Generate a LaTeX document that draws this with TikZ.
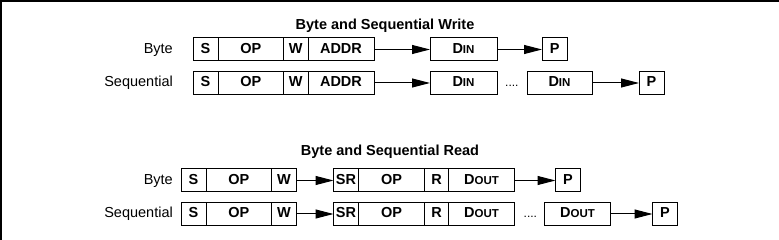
\documentclass[tikz,border=0pt]{standalone}
\usepackage{fontspec}
\setmainfont{Liberation Sans}
\usepackage{tikz}
\usetikzlibrary{arrows.meta,positioning}
\tikzset{
  cell/.style={draw=black,line width=1pt,minimum height=23pt,inner sep=0pt,outer sep=0pt,text height=10.5pt,text depth=3pt,font=\fontsize{14.5}{17}\selectfont\bfseries},
  sbox/.style={cell,minimum width=25pt},
  opbox/.style={cell,minimum width=65.5pt},
  wbox/.style={cell,minimum width=24.5pt},
  databox/.style={cell,minimum width=66pt},
  pbox/.style={cell,minimum width=25.5pt},
  dots/.style={inner sep=0pt,text height=10.5pt,text depth=3pt,font=\fontsize{12}{14}\selectfont},
  lbl/.style={inner sep=0pt,text height=10.5pt,text depth=3pt,font=\fontsize{14.5}{17}\selectfont},
  ttl/.style={inner sep=0pt,font=\fontsize{14.5}{17}\selectfont\bfseries},
  arrow/.style={-{Triangle[length=18pt,width=9pt]},line width=1pt,draw=black}
}
\newcommand{\Din}{D{\fontsize{11.5}{14}\selectfont IN}}
\newcommand{\Dout}{D{\fontsize{11.5}{14}\selectfont OUT}}
\begin{document}
\begin{tikzpicture}[x=1pt,y=-1pt,node distance=0pt]
\useasboundingbox (0,0) rectangle (779,240);
\draw[line width=4pt] (0,240) -- (0,0) -- (779,0);
\node[ttl] (wTitle) at (385,26) {Byte and Sequential Write};
\node[sbox,anchor=west] (bS) at (193,49.5) {S};
\node[opbox,right=of bS] (bOP) {OP};
\node[wbox,right=of bOP] (bW) {W};
\node[databox,right=of bW] (bAddr) {ADDR};
\node[databox,minimum width=67pt,right=56pt of bAddr] (bDin) {\Din};
\node[pbox,right=45pt of bDin] (bP) {P};
\node[lbl,left=20pt of bS] (bLbl) {Byte};
\draw[arrow] (bAddr)--(bDin);\draw[arrow] (bDin)--(bP);
\node[sbox,anchor=west] (sS) at (193,83) {S};
\node[opbox,right=of sS] (sOP) {OP};
\node[wbox,right=of sOP] (sW) {W};
\node[databox,right=of sW] (sAddr) {ADDR};
\node[databox,minimum width=67pt,right=56pt of sAddr] (sDin) {\Din};
\node[dots,right=8pt of sDin] (sDots) {....};
\node[databox,minimum width=65pt,right=30pt of sDin] (sDinB) {\Din};
\node[pbox,minimum width=25pt,right=47pt of sDinB] (sP) {P};
\node[lbl,left=20pt of sS] (sLbl) {Sequential};
\draw[arrow] (sAddr)--(sDin);\draw[arrow] (sDinB)--(sP);
\node[ttl] (rTitle) at (390,152) {Byte and Sequential Read};
\node[sbox,anchor=west] (rbS) at (181,180.5) {S};
\node[opbox,right=of rbS] (rbOP) {OP};
\node[wbox,minimum width=25pt,right=of rbOP] (rbW) {W};
\node[sbox,right=37pt of rbW] (rbSR) {SR};
\node[opbox,minimum width=66pt,right=of rbSR] (rbOP2) {OP};
\node[wbox,minimum width=24pt,right=of rbOP2] (rbR) {R};
\node[databox,right=of rbR] (rbDout) {\Dout};
\node[pbox,minimum width=25pt,right=41pt of rbDout] (rbP) {P};
\node[lbl,left=8pt of rbS] (rbLbl) {Byte};
\draw[arrow] (rbW)--(rbSR);\draw[arrow] (rbDout)--(rbP);
\node[sbox,anchor=west] (rsS) at (181,214) {S};
\node[opbox,right=of rsS] (rsOP) {OP};
\node[wbox,minimum width=25pt,right=of rsOP] (rsW) {W};
\node[sbox,right=37pt of rsW] (rsSR) {SR};
\node[opbox,minimum width=66pt,right=of rsSR] (rsOP2) {OP};
\node[wbox,minimum width=24pt,right=of rsOP2] (rsR) {R};
\node[databox,right=of rsR] (rsDout) {\Dout};
\node[dots,right=9pt of rsDout] (rsDots) {....};
\node[databox,right=30pt of rsDout] (rsDoutB) {\Dout};
\node[pbox,minimum width=25pt,right=42pt of rsDoutB] (rsP) {P};
\node[lbl,left=8pt of rsS] (rsLbl) {Sequential};
\draw[arrow] (rsW)--(rsSR);\draw[arrow] (rsDoutB)--(rsP);
\end{tikzpicture}
\end{document}
